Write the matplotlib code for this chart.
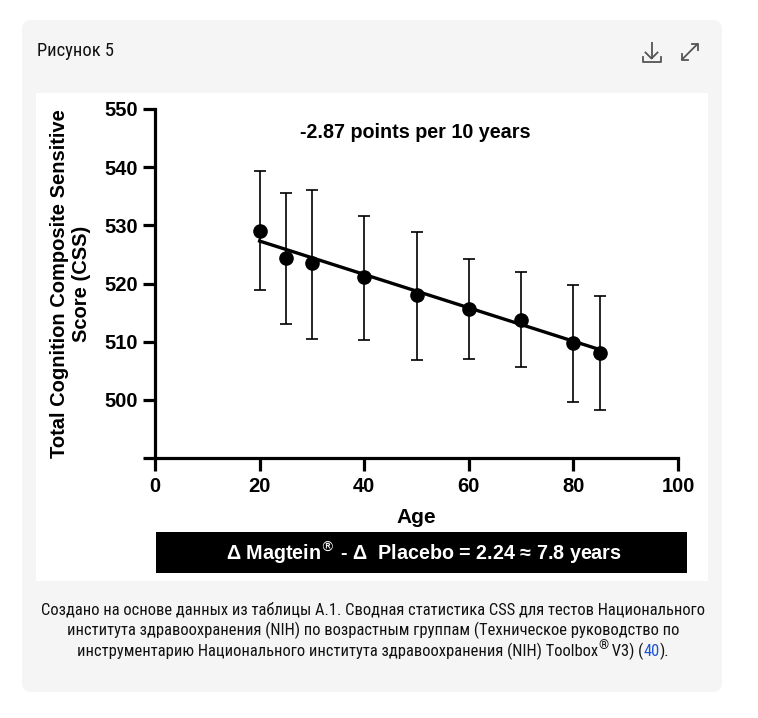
import numpy as np
import matplotlib
matplotlib.use("Agg")
import matplotlib.pyplot as plt
from matplotlib.patches import FancyBboxPatch, Rectangle
from matplotlib import font_manager as fm

# ---------------- data ----------------
ages = [20, 25, 30, 40, 50, 60, 70, 80, 85]
css_mean = [529.1, 524.4, 523.5, 521.1, 518.0, 515.6, 513.7, 509.8, 508.0]
err_upper = [539.4, 535.5, 536.0, 531.6, 528.9, 524.2, 521.9, 519.7, 517.8]
err_lower = [518.8, 513.0, 510.5, 510.3, 506.9, 507.1, 505.6, 499.6, 498.3]
fit_slope = -0.287
fit_intercept = 533.04
fit_range = [20, 85]
xticks = [0, 20, 40, 60, 80, 100]
yticks = [490, 500, 510, 520, 530, 540, 550]
ytick_labels = ["", "500", "510", "520", "530", "540", "550"]

W, H = 758, 718
fig = plt.figure(figsize=(W / 100, H / 100), dpi=100)
fig.patch.set_facecolor("white")

avail = {f.name for f in fm.fontManager.ttflist}
def pick(*names):
    for n in names:
        if n in avail:
            return n
    return "DejaVu Sans"
narrow = pick("Liberation Sans Narrow", "Roboto Condensed", "Open Sans Condensed", "Roboto")
arial = pick("Liberation Sans", "Arimo", "DejaVu Sans")

# background axes in pixel coordinates
bg = fig.add_axes([0, 0, 1, 1], zorder=-5)
bg.set_xlim(0, W)
bg.set_ylim(H, 0)
bg.axis("off")
bg.add_patch(FancyBboxPatch((22, 20), 700, 672, boxstyle="round,pad=0,rounding_size=9",
                            fc="#f5f5f5", ec="none"))
bg.add_patch(Rectangle((36, 93), 672, 488, fc="white", ec="none"))
bg.text(37, 51, "Рисунок 5", fontsize=13.3, family=narrow, va="center", ha="left", color="#111111")

# download icon
ic = "#555555"
bg.plot([651.5, 651.5], [42, 58.5], color=ic, lw=1.3, solid_capstyle="butt")
bg.plot([645.5, 651.5, 657.5], [52.5, 58.5, 52.5], color=ic, lw=1.3)
bg.plot([643, 643, 660.5, 660.5], [57, 62.3, 62.3, 57], color=ic, lw=1.3)
# expand icon
bg.plot([682, 697.5], [59.5, 44], color=ic, lw=1.3)
bg.plot([692, 697.5, 697.5], [44, 44, 49.5], color=ic, lw=1.3)
bg.plot([682, 682, 687.5], [54, 59.5, 59.5], color=ic, lw=1.3)

# black annotation bar
bg.add_patch(Rectangle((156, 532), 531, 41, fc="black", ec="none"))
bg.text(424, 553, "Δ Magtein$^{®}$ - Δ  Placebo = 2.24 ≈ 7.8 years", color="white",
        fontsize=14.2, fontweight="bold", family=arial, ha="center", va="center")

# caption
cfs = 11.85
cap_kw = dict(fontsize=cfs, family=narrow, color="#111111", va="center")
bg.text(373, 610, "Создано на основе данных из таблицы A.1. Сводная статистика CSS для тестов Национального",
        ha="center", **cap_kw)
bg.text(373, 630.5, "института здравоохранения (NIH) по возрастным группам (Техническое руководство по",
        ha="center", **cap_kw)
# third line assembled from pieces
fig.canvas.draw()
rend = fig.canvas.get_renderer()
pieces = [("инструментарию Национального института здравоохранения (NIH) Toolbox", "#111111", 0, cfs),
          ("®", "#111111", -5, 9.2),
          (" V3) (", "#111111", 0, cfs),
          ("40", "#1a56d6", 0, cfs),
          (").", "#111111", 0, cfs)]
arts = []
for s, c, dy, fs in pieces:
    t = bg.text(0, 651 + dy, s, fontsize=fs, family=narrow, color=c, va="center", ha="left")
    arts.append(t)
widths = [a.get_window_extent(rend).width for a in arts]
total = sum(widths)
x0 = 373 - total / 2
for a, w in zip(arts, widths):
    a.set_x(x0)
    x0 += w

# ---------------- main chart ----------------
x0p, x1p = 155, 678
y0p, y1p = 458, 109
ax = fig.add_axes([x0p / W, 1 - y0p / H, (x1p - x0p) / W, (y0p - y1p) / H])
ax.set_facecolor("none")
ax.set_xlim(0, 100)
ax.set_ylim(490, 550)
for s in ["top", "right"]:
    ax.spines[s].set_visible(False)
for s in ["left", "bottom"]:
    ax.spines[s].set_linewidth(2.3)
    ax.spines[s].set_capstyle("projecting")
ax.set_xticks(xticks)
ax.set_yticks(yticks)
ax.set_yticklabels(ytick_labels)
ax.tick_params(axis="both", length=9, width=2.3, labelsize=14.5, pad=3, color="black")
ax.tick_params(axis="x", pad=5)
for lab in ax.get_xticklabels() + ax.get_yticklabels():
    lab.set_fontweight("bold")
    lab.set_family(arial)

mean = np.array(css_mean)
yerr = [mean - np.array(err_lower), np.array(err_upper) - mean]
ax.errorbar(ages, mean, yerr=yerr, fmt="o", color="black", ms=9.5, elinewidth=1.2,
            capsize=4.6, capthick=1.2, zorder=3, clip_on=False)
fx = np.array(fit_range)
ax.plot(fx, fit_slope * fx + fit_intercept, color="black", lw=2.4, zorder=4)

ax.text(49.8, 545.9, "-2.87 points per 10 years", fontsize=14.2, fontweight="bold", family=arial,
        ha="center", va="center")
ax.set_xlabel("Age", fontsize=15, fontweight="bold", family=arial, labelpad=8)
ax.set_ylabel("Total Cognition Composite Sensitive\nScore (CSS)", fontsize=14.5,
              fontweight="bold", family=arial, labelpad=10, linespacing=1.2)

fig.savefig("out.png", dpi=100, facecolor="white")
